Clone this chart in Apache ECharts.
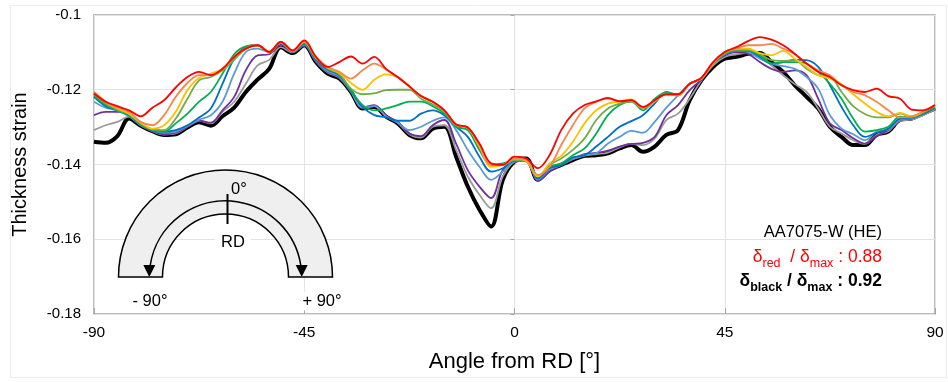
<!DOCTYPE html>
<html>
<head>
<meta charset="utf-8">
<script src="https://cdn.jsdelivr.net/npm/echarts@6/dist/echarts.min.js"></script>
<style>
  html, body { margin: 0; padding: 0; background: #fff; }
  #chart { width: 948px; height: 382px; }
</style>
</head>
<body>
<div id="chart"></div>
<script>
// Angle from the rolling direction, degrees
const angles = [
  -90, -87.5, -85, -82.5, -80, -77.5, -75, -72.5, -70, -67.5, -65, -62.5, -60, -57.5, -55, -52.5, -50, -47.5,
  -45, -42.5, -40, -37.5, -35, -32.5, -30, -27.5, -25, -22.5, -20, -17.5, -15, -12.5, -10, -7.5, -5, -2.5,
  0, 2.5, 5, 7.5, 10, 12.5, 15, 17.5, 20, 22.5, 25, 27.5, 30, 32.5, 35, 37.5, 40, 42.5,
  45, 47.5, 50, 52.5, 55, 57.5, 60, 62.5, 65, 67.5, 70, 72.5, 75, 77.5, 80, 82.5, 85, 87.5, 90
];

// Thickness strain, one list per curve
const strainRed = [
  -0.1210, -0.1232, -0.1244, -0.1255, -0.1271, -0.1248, -0.1228, -0.1194, -0.1166, -0.1152, -0.1161, -0.1144, -0.1112, -0.1090, -0.1081, -0.1099, -0.1072, -0.1095,
  -0.1068, -0.1112, -0.1139, -0.1126, -0.1111, -0.1130, -0.1112, -0.1144, -0.1166, -0.1191, -0.1217, -0.1232, -0.1255, -0.1293, -0.1301, -0.1344, -0.1397, -0.1401,
  -0.1379, -0.1384, -0.1410, -0.1375, -0.1308, -0.1264, -0.1241, -0.1231, -0.1222, -0.1231, -0.1228, -0.1246, -0.1228, -0.1212, -0.1212, -0.1184, -0.1168, -0.1126,
  -0.1099, -0.1086, -0.1070, -0.1059, -0.1066, -0.1081, -0.1104, -0.1130, -0.1152, -0.1166, -0.1188, -0.1201, -0.1206, -0.1197, -0.1217, -0.1224, -0.1253, -0.1255, -0.1241
];
const strainOrange = [
  -0.1206, -0.1232, -0.1248, -0.1259, -0.1286, -0.1295, -0.1268, -0.1219, -0.1182, -0.1161, -0.1161, -0.1144, -0.1112, -0.1090, -0.1081, -0.1099, -0.1072, -0.1096,
  -0.1070, -0.1112, -0.1139, -0.1152, -0.1170, -0.1148, -0.1130, -0.1146, -0.1166, -0.1191, -0.1217, -0.1232, -0.1255, -0.1293, -0.1301, -0.1348, -0.1401, -0.1401,
  -0.1384, -0.1388, -0.1428, -0.1406, -0.1348, -0.1295, -0.1250, -0.1232, -0.1224, -0.1230, -0.1228, -0.1248, -0.1230, -0.1212, -0.1215, -0.1184, -0.1170, -0.1130,
  -0.1099, -0.1090, -0.1081, -0.1081, -0.1077, -0.1090, -0.1105, -0.1130, -0.1148, -0.1161, -0.1188, -0.1206, -0.1215, -0.1232, -0.1255, -0.1274, -0.1271, -0.1259, -0.1241
];
const strainYellow = [
  -0.1206, -0.1232, -0.1250, -0.1264, -0.1288, -0.1304, -0.1295, -0.1259, -0.1201, -0.1168, -0.1157, -0.1144, -0.1112, -0.1090, -0.1081, -0.1099, -0.1072, -0.1096,
  -0.1072, -0.1114, -0.1141, -0.1155, -0.1182, -0.1200, -0.1173, -0.1159, -0.1166, -0.1191, -0.1217, -0.1232, -0.1255, -0.1293, -0.1302, -0.1352, -0.1406, -0.1401,
  -0.1384, -0.1390, -0.1432, -0.1397, -0.1377, -0.1339, -0.1290, -0.1255, -0.1237, -0.1232, -0.1226, -0.1248, -0.1230, -0.1212, -0.1215, -0.1184, -0.1170, -0.1130,
  -0.1099, -0.1090, -0.1090, -0.1102, -0.1108, -0.1096, -0.1117, -0.1139, -0.1161, -0.1170, -0.1185, -0.1212, -0.1237, -0.1259, -0.1271, -0.1262, -0.1271, -0.1259, -0.1241
];
const strainLightGreen = [
  -0.1210, -0.1237, -0.1253, -0.1265, -0.1290, -0.1306, -0.1308, -0.1277, -0.1224, -0.1175, -0.1166, -0.1148, -0.1120, -0.1090, -0.1081, -0.1099, -0.1072, -0.1096,
  -0.1072, -0.1115, -0.1142, -0.1157, -0.1197, -0.1212, -0.1210, -0.1201, -0.1200, -0.1200, -0.1224, -0.1239, -0.1259, -0.1295, -0.1301, -0.1352, -0.1401, -0.1401,
  -0.1388, -0.1392, -0.1432, -0.1401, -0.1384, -0.1361, -0.1330, -0.1281, -0.1250, -0.1237, -0.1232, -0.1250, -0.1232, -0.1210, -0.1215, -0.1184, -0.1170, -0.1130,
  -0.1102, -0.1093, -0.1093, -0.1104, -0.1121, -0.1123, -0.1121, -0.1144, -0.1161, -0.1164, -0.1206, -0.1244, -0.1265, -0.1274, -0.1274, -0.1264, -0.1272, -0.1259, -0.1244
];
const strainGreen = [
  -0.1215, -0.1241, -0.1255, -0.1268, -0.1293, -0.1308, -0.1312, -0.1290, -0.1264, -0.1232, -0.1206, -0.1157, -0.1105, -0.1084, -0.1081, -0.1099, -0.1072, -0.1096,
  -0.1075, -0.1117, -0.1144, -0.1159, -0.1201, -0.1241, -0.1255, -0.1250, -0.1241, -0.1232, -0.1232, -0.1244, -0.1264, -0.1299, -0.1308, -0.1361, -0.1401, -0.1397,
  -0.1388, -0.1392, -0.1432, -0.1406, -0.1397, -0.1375, -0.1357, -0.1317, -0.1268, -0.1241, -0.1232, -0.1255, -0.1224, -0.1208, -0.1212, -0.1184, -0.1170, -0.1130,
  -0.1104, -0.1095, -0.1095, -0.1108, -0.1130, -0.1126, -0.1126, -0.1130, -0.1152, -0.1184, -0.1224, -0.1277, -0.1312, -0.1308, -0.1299, -0.1272, -0.1274, -0.1262, -0.1246
];
const strainBlue = [
  -0.1219, -0.1244, -0.1255, -0.1268, -0.1293, -0.1308, -0.1312, -0.1308, -0.1295, -0.1274, -0.1250, -0.1184, -0.1117, -0.1086, -0.1081, -0.1099, -0.1072, -0.1096,
  -0.1077, -0.1120, -0.1146, -0.1161, -0.1203, -0.1246, -0.1268, -0.1274, -0.1283, -0.1283, -0.1264, -0.1255, -0.1268, -0.1299, -0.1326, -0.1379, -0.1419, -0.1410,
  -0.1390, -0.1390, -0.1437, -0.1410, -0.1401, -0.1381, -0.1375, -0.1352, -0.1326, -0.1299, -0.1284, -0.1268, -0.1237, -0.1206, -0.1215, -0.1184, -0.1170, -0.1130,
  -0.1104, -0.1096, -0.1096, -0.1112, -0.1130, -0.1126, -0.1120, -0.1121, -0.1139, -0.1188, -0.1246, -0.1295, -0.1326, -0.1315, -0.1304, -0.1277, -0.1274, -0.1264, -0.1248
];
const strainLightBlue = [
  -0.1232, -0.1248, -0.1256, -0.1271, -0.1295, -0.1308, -0.1315, -0.1312, -0.1297, -0.1280, -0.1268, -0.1232, -0.1157, -0.1099, -0.1090, -0.1099, -0.1075, -0.1098,
  -0.1079, -0.1121, -0.1150, -0.1164, -0.1204, -0.1248, -0.1244, -0.1271, -0.1288, -0.1308, -0.1299, -0.1283, -0.1274, -0.1308, -0.1361, -0.1406, -0.1441, -0.1419,
  -0.1392, -0.1390, -0.1440, -0.1413, -0.1401, -0.1384, -0.1375, -0.1370, -0.1344, -0.1326, -0.1310, -0.1315, -0.1286, -0.1248, -0.1215, -0.1184, -0.1170, -0.1130,
  -0.1105, -0.1096, -0.1099, -0.1117, -0.1130, -0.1137, -0.1144, -0.1166, -0.1197, -0.1268, -0.1304, -0.1319, -0.1335, -0.1312, -0.1306, -0.1280, -0.1276, -0.1264, -0.1248
];
const strainPurple = [
  -0.1268, -0.1259, -0.1259, -0.1265, -0.1295, -0.1311, -0.1319, -0.1315, -0.1299, -0.1283, -0.1288, -0.1255, -0.1219, -0.1148, -0.1108, -0.1105, -0.1079, -0.1099,
  -0.1081, -0.1123, -0.1152, -0.1166, -0.1204, -0.1248, -0.1241, -0.1270, -0.1288, -0.1317, -0.1324, -0.1295, -0.1281, -0.1344, -0.1415, -0.1459, -0.1490, -0.1415,
  -0.1392, -0.1390, -0.1443, -0.1419, -0.1401, -0.1384, -0.1372, -0.1369, -0.1363, -0.1352, -0.1345, -0.1342, -0.1326, -0.1268, -0.1241, -0.1201, -0.1173, -0.1130,
  -0.1108, -0.1099, -0.1104, -0.1126, -0.1144, -0.1152, -0.1148, -0.1161, -0.1224, -0.1290, -0.1308, -0.1330, -0.1344, -0.1324, -0.1308, -0.1281, -0.1277, -0.1264, -0.1248
];
const strainGray = [
  -0.1308, -0.1295, -0.1286, -0.1272, -0.1295, -0.1311, -0.1320, -0.1317, -0.1299, -0.1283, -0.1290, -0.1259, -0.1232, -0.1184, -0.1135, -0.1120, -0.1086, -0.1100,
  -0.1081, -0.1124, -0.1154, -0.1168, -0.1205, -0.1248, -0.1244, -0.1271, -0.1288, -0.1319, -0.1328, -0.1299, -0.1295, -0.1361, -0.1432, -0.1481, -0.1517, -0.1432,
  -0.1392, -0.1386, -0.1443, -0.1416, -0.1401, -0.1386, -0.1376, -0.1372, -0.1368, -0.1354, -0.1345, -0.1348, -0.1330, -0.1281, -0.1264, -0.1224, -0.1175, -0.1135,
  -0.1112, -0.1105, -0.1102, -0.1108, -0.1135, -0.1161, -0.1185, -0.1206, -0.1250, -0.1299, -0.1317, -0.1335, -0.1345, -0.1321, -0.1311, -0.1283, -0.1280, -0.1268, -0.1253
];
const strainBlack = [
  -0.1339, -0.1342, -0.1324, -0.1277, -0.1296, -0.1311, -0.1321, -0.1319, -0.1301, -0.1287, -0.1296, -0.1271, -0.1248, -0.1206, -0.1173, -0.1144, -0.1086, -0.1102,
  -0.1081, -0.1126, -0.1157, -0.1170, -0.1206, -0.1250, -0.1246, -0.1272, -0.1290, -0.1321, -0.1330, -0.1304, -0.1299, -0.1379, -0.1459, -0.1521, -0.1566, -0.1441,
  -0.1392, -0.1384, -0.1441, -0.1415, -0.1401, -0.1388, -0.1377, -0.1375, -0.1370, -0.1357, -0.1348, -0.1366, -0.1352, -0.1321, -0.1308, -0.1228, -0.1175, -0.1139,
  -0.1117, -0.1112, -0.1104, -0.1102, -0.1126, -0.1152, -0.1188, -0.1219, -0.1250, -0.1299, -0.1326, -0.1348, -0.1348, -0.1321, -0.1312, -0.1281, -0.1277, -0.1264, -0.1250
];

// Axis ranges
const angleTicks = [-90, -45, 0, 45, 90];
const strainTicks = [-0.18, -0.16, -0.14, -0.12, -0.1];

const FONT = "'Liberation Sans', Arial, sans-serif";

// Drawn bottom-up so the red curve sits on top
const curves = [
  { name: 'black', data: strainBlack, color: '#000000', width: 4 },
  { name: 'gray', data: strainGray, color: '#9a9a9a', width: 1.8 },
  { name: 'purple', data: strainPurple, color: '#7030a0', width: 1.8 },
  { name: 'light blue', data: strainLightBlue, color: '#5b9bd5', width: 1.8 },
  { name: 'blue', data: strainBlue, color: '#0070c0', width: 1.8 },
  { name: 'green', data: strainGreen, color: '#00b050', width: 1.8 },
  { name: 'light green', data: strainLightGreen, color: '#70ad47', width: 1.8 },
  { name: 'yellow', data: strainYellow, color: '#ffc000', width: 1.8 },
  { name: 'orange', data: strainOrange, color: '#f4874b', width: 1.8 },
  { name: 'red', data: strainRed, color: '#ff0000', width: 1.8 }
];

const series = curves.map(function (c) {
  return {
    name: c.name,
    type: 'line',
    data: angles.map(function (a, i) { return [a, c.data[i]]; }),
    showSymbol: false,
    smooth: 0.35,
    lineStyle: { color: c.color, width: c.width },
    itemStyle: { color: c.color },
    silent: true,
    animation: false
  };
});

// Bend-direction sketch: ring section with arrows from 0° (RD) to ±90°
const cx = 225.5, cy = 277;
const arrowR = 76.2;
const sketch = [
  {
    type: 'sector',
    shape: { cx: cx, cy: cy, r: 107, r0: 63, startAngle: Math.PI, endAngle: 2 * Math.PI, clockwise: true },
    style: { fill: '#efefef', stroke: '#000', lineWidth: 1.5 },
    z: 100
  },
  {
    type: 'arc',
    shape: { cx: cx, cy: cy, r: arrowR, startAngle: Math.PI + 0.15, endAngle: 2 * Math.PI - 0.15, clockwise: true },
    style: { stroke: '#000', lineWidth: 1.5, fill: null },
    z: 101
  },
  {
    type: 'polygon',
    shape: { points: [[cx - arrowR - 6, cy - 12], [cx - arrowR + 6, cy - 12], [cx - arrowR, cy]] },
    style: { fill: '#000' },
    z: 101
  },
  {
    type: 'polygon',
    shape: { points: [[cx + arrowR - 6, cy - 12], [cx + arrowR + 6, cy - 12], [cx + arrowR, cy]] },
    style: { fill: '#000' },
    z: 101
  },
  {
    type: 'line',
    shape: { x1: 227.5, y1: 194, x2: 227.5, y2: 224 },
    style: { stroke: '#000', lineWidth: 2 },
    z: 102
  },
  {
    type: 'text', z: 102,
    style: { text: '0°', x: 239, y: 189, textAlign: 'center', textVerticalAlign: 'middle', fontSize: 16.5, fontFamily: FONT, fill: '#000' }
  },
  {
    type: 'text', z: 102,
    style: { text: 'RD', x: 233, y: 242, textAlign: 'center', textVerticalAlign: 'middle', fontSize: 16.5, fontFamily: FONT, fill: '#000',
      backgroundColor: '#fff', padding: [1, 6, 1, 6] }
  },
  {
    type: 'text', z: 102,
    style: { text: '- 90°', x: 150, y: 301, textAlign: 'center', textVerticalAlign: 'middle', fontSize: 16.5, fontFamily: FONT, fill: '#000',
      backgroundColor: '#fff', padding: [1, 3, 1, 3] }
  },
  {
    type: 'text', z: 102,
    style: { text: '+ 90°', x: 322, y: 301, textAlign: 'center', textVerticalAlign: 'middle', fontSize: 16.5, fontFamily: FONT, fill: '#000',
      backgroundColor: '#fff', padding: [1, 3, 1, 3] }
  }
];

// Material label and deviation ratios
const notes = [
  {
    type: 'text', z: 102,
    style: { text: 'AA7075-W (HE)', x: 882, y: 232, textAlign: 'right', textVerticalAlign: 'middle', fontSize: 16.5, fontFamily: FONT, fill: '#000' }
  },
  {
    type: 'text', z: 102,
    style: {
      text: '{m|δ}{s|red}{m|  / δ}{s|max}{m| : 0.88}',
      x: 882, y: 257, textAlign: 'right', textVerticalAlign: 'middle',
      rich: {
        m: { fontSize: 17.5, fontFamily: FONT, fill: '#ff0000', lineHeight: 26, verticalAlign: 'middle' },
        s: { fontSize: 12.5, fontFamily: FONT, fill: '#ff0000', lineHeight: 12, verticalAlign: 'bottom' }
      }
    }
  },
  {
    type: 'text', z: 102,
    style: {
      text: '{m|δ}{s|black}{m| / δ}{s|max}{m| : 0.92}',
      x: 882, y: 281, textAlign: 'right', textVerticalAlign: 'middle',
      rich: {
        m: { fontSize: 17.5, fontWeight: 'bold', fontFamily: FONT, fill: '#000', lineHeight: 26, verticalAlign: 'middle' },
        s: { fontSize: 12.5, fontWeight: 'bold', fontFamily: FONT, fill: '#000', lineHeight: 12, verticalAlign: 'bottom' }
      }
    }
  },
  {
    type: 'rect', z: -1, silent: true,
    shape: { x: 10.5, y: 5.5, width: 936, height: 372 },
    style: { fill: null, stroke: '#ececec', lineWidth: 1 }
  }
];

const chart = echarts.init(document.getElementById('chart'), null, { renderer: 'canvas' });
chart.setOption({
  animation: false,
  backgroundColor: '#fff',
  grid: { left: 94, right: 13, top: 15, bottom: 68, show: true, borderColor: '#a6a6a6', borderWidth: 1.5, backgroundColor: 'transparent' },
  xAxis: {
    type: 'value',
    min: angleTicks[0], max: angleTicks[angleTicks.length - 1], interval: 45,
    axisLine: { show: false },
    axisTick: { show: true, inside: true, length: 6, lineStyle: { color: '#a6a6a6' } },
    splitLine: { show: true, lineStyle: { color: '#e3e3e3', width: 1 } },
    axisLabel: { fontSize: 15.5, color: '#000', fontFamily: FONT, margin: 11 },
    name: 'Angle from RD [°]',
    nameLocation: 'middle',
    nameGap: 37,
    nameTextStyle: { fontSize: 22, color: '#000', fontFamily: FONT }
  },
  yAxis: {
    type: 'value',
    min: strainTicks[0], max: strainTicks[strainTicks.length - 1], interval: 0.02,
    axisLine: { show: false },
    axisTick: { show: true, length: 4, lineStyle: { color: '#a6a6a6' } },
    splitLine: { show: true, lineStyle: { color: '#e3e3e3', width: 1 } },
    axisLabel: { fontSize: 15, color: '#000', fontFamily: FONT, margin: 13,
      formatter: function (v) { return String(Math.round(v * 100) / 100); } },
    name: 'Thickness strain',
    nameLocation: 'middle',
    nameGap: 64,
    nameTextStyle: { fontSize: 20, color: '#000', fontFamily: FONT }
  },
  series: series,
  graphic: sketch.concat(notes)
});
</script>
</body>
</html>
